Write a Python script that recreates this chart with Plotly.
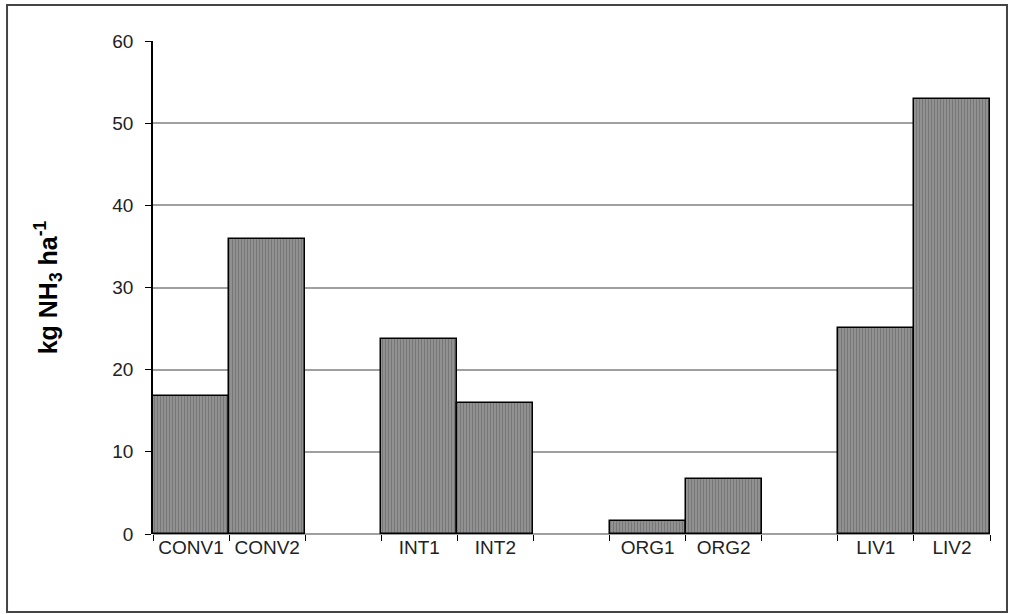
import plotly.graph_objects as go

categories = ["CONV1", "CONV2", " ", "INT1", "INT2", "  ", "ORG1", "ORG2", "   ", "LIV1", "LIV2"]
values = [16.8, 35.9, None, 23.7, 16.0, None, 1.6, 6.7, None, 25.1, 53.0]
y_ticks = [0, 10, 20, 30, 40, 50, 60]

fig = go.Figure()
fig.add_trace(go.Bar(
    x=categories, y=values,
    marker=dict(
        color="#8a8a8a",
        line=dict(color="black", width=1.5),
        pattern=dict(shape="|", fgcolor="#5a5a5a", bgcolor="#949494", size=3, solidity=0.4),
    ),
    width=1.0,
    hoverinfo="skip",
))

fig.update_layout(
    width=1009, height=614,
    margin=dict(l=153, r=19, t=41, b=80),
    paper_bgcolor="white", plot_bgcolor="white",
    bargap=0, showlegend=False,
    font=dict(family="Liberation Sans, Arial, sans-serif", size=19, color="#222"),
    xaxis=dict(
        type="category", categoryorder="array", categoryarray=categories,
        tickson="boundaries", ticks="outside", ticklen=6, tickcolor="black", tickwidth=1,
        showline=False, showgrid=False, zeroline=False,
        tickfont=dict(size=19, color="#222"),
    ),
    yaxis=dict(
        range=[0, 60], tickvals=y_ticks, ticks="outside", ticklen=6, tickcolor="black",
        ticklabelstandoff=8,
        showline=True, linecolor="black", linewidth=1.5,
        showgrid=True, gridcolor="#a0a0a0", gridwidth=2,
        zeroline=True, zerolinecolor="#a0a0a0", zerolinewidth=2,
        tickfont=dict(size=19, color="#222"),
        title=dict(text="<b>kg NH<sub>3</sub> ha<sup>-1</sup></b>", font=dict(size=25, color="black"), standoff=48),
    ),
    shapes=[dict(
        type="rect", xref="paper", yref="paper",
        x0=-0.1744, x1=1.0203, y0=-0.158, y1=1.073,
        line=dict(color="#444", width=2), layer="below",
    )],
)

fig.write_html("out.html", config={"displayModeBar": False},
               post_script="document.body.style.margin='0';document.body.style.overflow='hidden';")
